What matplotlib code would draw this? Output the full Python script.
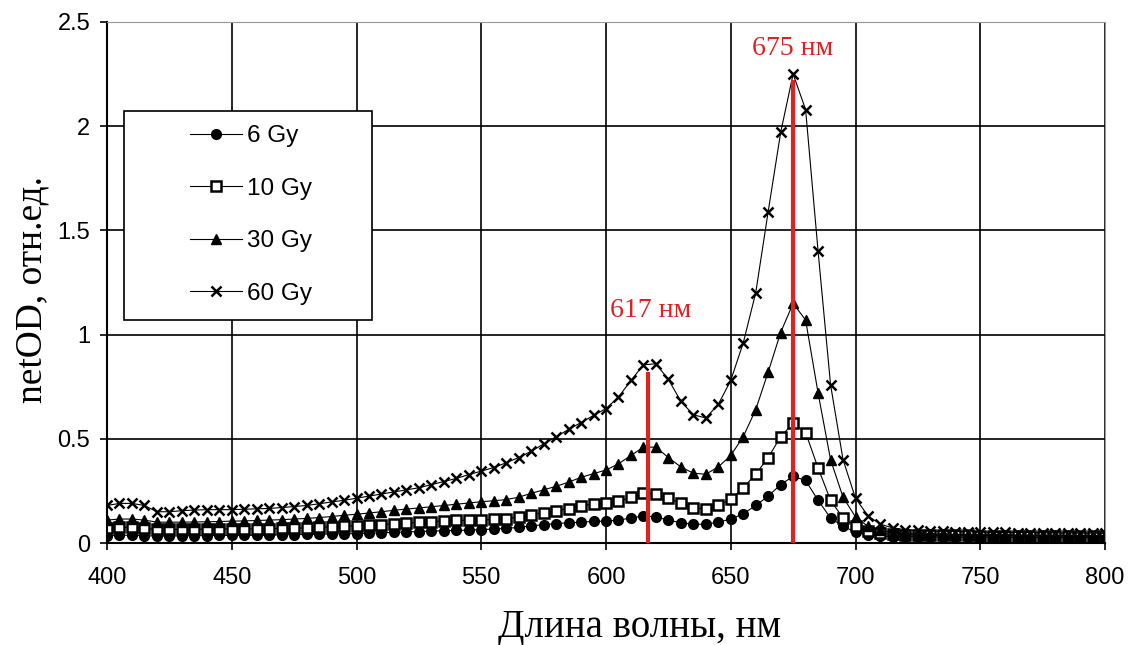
import matplotlib
matplotlib.use("Agg")
import matplotlib.pyplot as plt
from matplotlib.patches import Rectangle

# wavelength grid, nm
wl = [400, 405, 410, 415, 420, 425, 430, 435, 440, 445,
      450, 455, 460, 465, 470, 475, 480, 485, 490, 495,
      500, 505, 510, 515, 520, 525, 530, 535, 540, 545,
      550, 555, 560, 565, 570, 575, 580, 585, 590, 595,
      600, 605, 610, 615, 620, 625, 630, 635, 640, 645,
      650, 655, 660, 665, 670, 675, 680, 685, 690, 695,
      700, 705, 710, 715, 720, 725, 730, 735, 740, 745,
      750, 755, 760, 765, 770, 775, 780, 785, 790, 795, 800]

od_6 = [0.035, 0.037, 0.037, 0.035, 0.033, 0.033, 0.034, 0.035, 0.035, 0.036,
        0.036, 0.037, 0.038, 0.038, 0.039, 0.040, 0.041, 0.042, 0.043, 0.044,
        0.045, 0.047, 0.049, 0.051, 0.053, 0.055, 0.057, 0.059, 0.060, 0.062,
        0.064, 0.067, 0.070, 0.075, 0.082, 0.088, 0.093, 0.097, 0.100, 0.104,
        0.105, 0.110, 0.120, 0.130, 0.125, 0.110, 0.097, 0.090, 0.090, 0.100,
        0.115, 0.140, 0.180, 0.225, 0.280, 0.320, 0.300, 0.205, 0.120, 0.080,
        0.052, 0.040, 0.034, 0.031, 0.030, 0.030, 0.029, 0.029, 0.028, 0.028,
        0.028, 0.027, 0.027, 0.027, 0.026, 0.026, 0.026, 0.025, 0.025, 0.025, 0.025]

od_10 = [0.070, 0.075, 0.075, 0.070, 0.065, 0.065, 0.065, 0.066, 0.066, 0.067,
         0.067, 0.068, 0.068, 0.069, 0.070, 0.071, 0.073, 0.075, 0.077, 0.080,
         0.083, 0.085, 0.088, 0.092, 0.096, 0.099, 0.102, 0.105, 0.108, 0.110,
         0.112, 0.113, 0.115, 0.125, 0.135, 0.145, 0.155, 0.165, 0.178, 0.188,
         0.190, 0.200, 0.220, 0.240, 0.235, 0.215, 0.190, 0.167, 0.165, 0.180,
         0.210, 0.265, 0.330, 0.410, 0.510, 0.575, 0.530, 0.360, 0.205, 0.120,
         0.080, 0.058, 0.046, 0.041, 0.039, 0.038, 0.037, 0.037, 0.036, 0.036,
         0.035, 0.035, 0.035, 0.034, 0.034, 0.034, 0.033, 0.033, 0.033, 0.032, 0.032]

od_30 = [0.110, 0.115, 0.115, 0.110, 0.100, 0.100, 0.100, 0.101, 0.102, 0.103,
         0.105, 0.106, 0.108, 0.110, 0.112, 0.115, 0.118, 0.122, 0.127, 0.133,
         0.138, 0.144, 0.150, 0.157, 0.163, 0.168, 0.174, 0.180, 0.186, 0.192,
         0.198, 0.203, 0.208, 0.220, 0.238, 0.255, 0.272, 0.292, 0.315, 0.333,
         0.350, 0.380, 0.420, 0.460, 0.460, 0.410, 0.365, 0.335, 0.330, 0.365,
         0.420, 0.510, 0.640, 0.820, 1.010, 1.150, 1.070, 0.720, 0.400, 0.220,
         0.125, 0.080, 0.060, 0.050, 0.045, 0.043, 0.042, 0.041, 0.040, 0.040,
         0.039, 0.039, 0.038, 0.038, 0.037, 0.037, 0.036, 0.036, 0.035, 0.035, 0.035]

od_60 = [0.180, 0.190, 0.190, 0.180, 0.150, 0.150, 0.155, 0.158, 0.160, 0.160,
         0.160, 0.162, 0.164, 0.166, 0.170, 0.175, 0.180, 0.188, 0.197, 0.205,
         0.215, 0.225, 0.235, 0.245, 0.255, 0.265, 0.280, 0.295, 0.310, 0.328,
         0.345, 0.362, 0.385, 0.410, 0.440, 0.475, 0.510, 0.545, 0.578, 0.612,
         0.645, 0.700, 0.780, 0.855, 0.860, 0.785, 0.680, 0.615, 0.600, 0.665,
         0.780, 0.960, 1.200, 1.590, 1.970, 2.250, 2.080, 1.400, 0.760, 0.400,
         0.215, 0.130, 0.090, 0.072, 0.064, 0.060, 0.058, 0.056, 0.055, 0.054,
         0.053, 0.052, 0.051, 0.050, 0.050, 0.049, 0.048, 0.048, 0.047, 0.047, 0.046]

series = [("6 Gy", od_6, "o"), ("10 Gy", od_10, "s"),
          ("30 Gy", od_30, "^"), ("60 Gy", od_60, "x")]

peaks = [617, 675]
peak_tops = [0.82, 2.22]
peak_labels = ["617 нм", "675 нм"]
label_pos = [(618, 1.115), (675, 2.375)]

fig = plt.figure(figsize=(11.32, 6.45), dpi=100)
ax = fig.add_axes([107 / 1132, 1 - 543 / 645, 998 / 1132, 521 / 645])

for name, vals, mk in series:
    if mk == "s":
        ax.plot(wl, vals, color="black", lw=0.8, marker=mk, ms=6.5,
                mfc="white", mec="black", mew=1.8, label=name)
    elif mk == "x":
        ax.plot(wl, vals, color="black", lw=0.8, marker=mk, ms=7.5,
                mew=1.8, label=name)
    else:
        ax.plot(wl, vals, color="black", lw=0.8, marker=mk, ms=7,
                mfc="black", mec="black", label=name)

red = "#dd2222"
for p, top, lab, pos in zip(peaks, peak_tops, peak_labels, label_pos):
    ax.plot([p, p], [0, top], color=red, lw=3, solid_capstyle="butt", zorder=5)
    ax.text(pos[0], pos[1], lab, color=red, fontsize=20,
            family="Liberation Serif", ha="center", va="center")

ax.set_xlim(400, 800)
ax.set_ylim(0, 2.5)
ax.set_xticks(range(400, 801, 50))
ax.set_yticks([0, 0.5, 1, 1.5, 2, 2.5])
ax.set_yticklabels(["0", "0.5", "1", "1.5", "2", "2.5"])
ax.grid(True, color="black", lw=1.2)
ax.set_axisbelow(True)
for s in ["top", "right"]:
    ax.spines[s].set_color("#999999")
for s in ["left", "bottom"]:
    ax.spines[s].set_linewidth(1.5)
ax.tick_params(direction="out", length=5, width=1.2, labelsize=17,
               pad=7, labelfontfamily="Liberation Sans")
ax.tick_params(axis="x", pad=12)

ax.set_xlabel("Длина волны, нм", family="Liberation Serif", fontsize=28,
              va="center")
ax.xaxis.set_label_coords(0.534, -0.163)
ax.set_ylabel("netOD, отн.ед.", family="Liberation Serif", fontsize=27,
              va="center")
ax.yaxis.set_label_coords(-0.075, 0.4875)

# legend frame drawn separately so it can be wider than its contents
ax.add_patch(Rectangle((17 / 998, 223 / 521), 248 / 998, 209 / 521,
                       transform=ax.transAxes, facecolor="white",
                       edgecolor="black", lw=1.2, zorder=6))
leg = ax.legend(loc="center left", bbox_to_anchor=(83 / 998, 328 / 521),
                frameon=False, prop={"family": "Liberation Sans", "size": 17.5},
                handlelength=2.15, labelspacing=1.25, borderpad=0,
                handletextpad=0.2, borderaxespad=0)
leg.set_zorder(7)

fig.savefig("out.png", dpi=100)
